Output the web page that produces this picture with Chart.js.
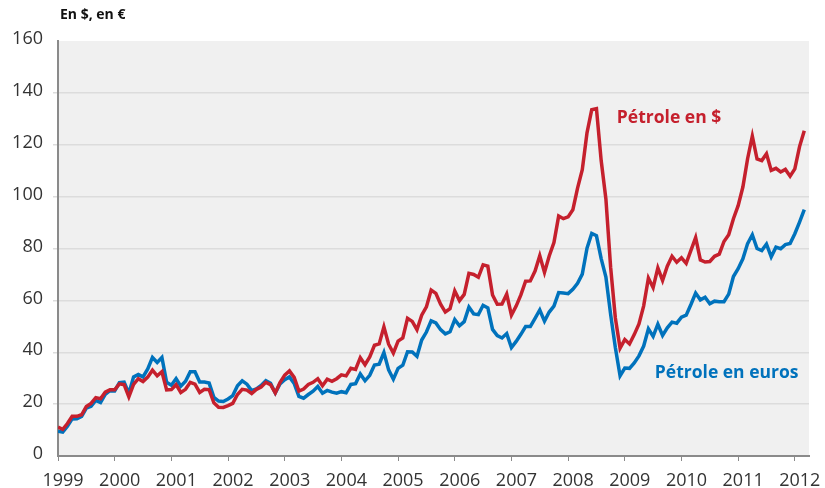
<!DOCTYPE html>
<html lang="fr">
<head>
<meta charset="utf-8">
<style>
  html, body { margin: 0; padding: 0; background: #ffffff; }
  #wrap { width: 825px; height: 488px; position: relative; }
</style>
</head>
<body>
<div id="wrap"><canvas id="myChart" width="825" height="488"></canvas></div>
<script src="https://cdn.jsdelivr.net/npm/chart.js"></script>
<script>
// monthly values, Jan 1999 -> Mar 2012
const startYear = 1999;
const yearTicks = [1999, 2000, 2001, 2002, 2003, 2004, 2005, 2006, 2007, 2008, 2009, 2010, 2011, 2012];
const yTicks = [0, 20, 40, 60, 80, 100, 120, 140, 160];

const petroleDollar = [
  11.1, 10.3, 12.5, 15.3, 15.3, 15.9, 19.1, 20.3, 22.5, 22.1, 24.6, 25.5,
  25.5, 27.8, 27.5, 22.8, 27.6, 29.8, 28.7, 30.4, 33.1, 30.9, 32.5, 25.5,
  25.6, 27.5, 24.5, 25.7, 28.4, 27.7, 24.5, 25.7, 25.6, 20.5, 18.8, 18.7,
  19.4, 20.3, 23.7, 25.7, 25.4, 24.1, 25.7, 26.6, 28.4, 27.5, 24.3, 28.3,
  31.2, 32.8, 30.3, 25.0, 25.8, 27.6, 28.4, 29.8, 27.1, 29.6, 28.8, 29.8,
  31.3, 30.9, 33.8, 33.4, 37.9, 35.2, 38.2, 42.7, 43.2, 49.8, 43.1, 39.7,
  44.3, 45.5, 53.1, 51.9, 48.7, 54.3, 57.5, 64.0, 62.7, 58.5, 55.5, 56.8,
  63.6, 59.9, 62.3, 70.4, 70.0, 68.9, 73.7, 73.2, 62.1, 58.5, 58.6, 62.4,
  54.3, 57.8, 62.1, 67.4, 67.5, 71.3, 77.2, 70.8, 77.1, 82.3, 92.5, 91.5,
  92.2, 94.9, 103.3, 110.4, 124.6, 133.5, 133.9, 113.9, 99.1, 72.8, 53.2, 41.6,
  44.9, 43.2, 46.8, 50.9, 57.9, 68.6, 64.9, 72.5, 67.7, 73.2, 77.0, 74.7,
  76.4, 74.3, 79.3, 84.2, 75.6, 74.8, 75.0, 77.0, 77.8, 82.7, 85.3, 91.5,
  96.5, 103.7, 114.6, 123.3, 114.5, 113.9, 116.5, 110.1, 110.9, 109.5, 110.5, 107.9,
  110.7, 119.3, 125.4
];

const petroleEuro = [
  9.6, 9.2, 11.5, 14.3, 14.4, 15.3, 18.5, 19.2, 21.4, 20.6, 23.8, 25.2,
  25.1, 28.3, 28.5, 24.1, 30.5, 31.4, 30.5, 33.6, 38.0, 36.1, 38.0, 28.4,
  27.3, 29.8, 26.9, 28.8, 32.5, 32.5, 28.5, 28.5, 28.1, 22.6, 21.2, 21.0,
  22.0, 23.3, 27.1, 29.0, 27.7, 25.2, 25.9, 27.2, 29.0, 28.0, 24.3, 27.8,
  29.4, 30.5, 28.0, 23.0, 22.3, 23.7, 25.0, 26.8, 24.2, 25.3, 24.6, 24.2,
  24.8, 24.4, 27.6, 27.9, 31.6, 29.0, 31.1, 35.1, 35.4, 39.9, 33.2, 29.6,
  33.8, 35.0, 40.2, 40.1, 38.4, 44.7, 47.8, 52.1, 51.3, 48.7, 47.1, 47.9,
  52.6, 50.2, 51.8, 57.4, 54.8, 54.5, 58.1, 57.1, 48.8, 46.4, 45.5, 47.2,
  41.8, 44.2, 46.9, 49.9, 49.9, 53.1, 56.3, 52.0, 55.5, 57.8, 63.0, 62.8,
  62.6, 64.3, 66.6, 70.1, 80.1, 85.8, 84.9, 76.1, 69.0, 54.6, 41.8, 30.9,
  33.9, 33.8, 35.9, 38.6, 42.4, 49.0, 46.1, 50.8, 46.5, 49.4, 51.6, 51.2,
  53.5, 54.3, 58.4, 62.8, 60.2, 61.2, 58.7, 59.7, 59.5, 59.5, 62.4, 69.2,
  72.2, 76.0, 81.9, 85.3, 80.0, 79.2, 81.7, 76.8, 80.5, 79.9, 81.5, 81.9,
  85.7, 90.2, 95.0
];

const rouge = '#c5202d';
const bleu = '#0072bc';
const fontFam = '"Open Sans", "DejaVu Sans", sans-serif';

function toPoints(values) {
  return values.map((v, i) => ({ x: startYear + i / 12, y: v }));
}

// grey plot background, title and series labels
const decor = {
  id: 'decor',
  beforeDraw(chart) {
    const { ctx, chartArea } = chart;
    ctx.save();
    ctx.fillStyle = '#f0f0f0';
    ctx.fillRect(chartArea.left, chartArea.top, chartArea.right - chartArea.left, chartArea.bottom - chartArea.top);
    ctx.restore();
  },
  afterDraw(chart) {
    const { ctx, scales } = chart;
    ctx.save();
    ctx.textBaseline = 'middle';
    ctx.textAlign = 'left';
    ctx.fillStyle = '#111';
    ctx.font = 'bold 14px ' + fontFam;
    ctx.fillText('En $, en €', 60, 15);
    ctx.font = 'bold 17.5px ' + fontFam;
    ctx.fillStyle = rouge;
    ctx.fillText('Pétrole en $', scales.x.getPixelForValue(2008.86), scales.y.getPixelForValue(130.3));
    ctx.fillStyle = bleu;
    ctx.fillText('Pétrole en euros', scales.x.getPixelForValue(2009.53), scales.y.getPixelForValue(32));
    ctx.restore();
  }
};

const config = {
  type: 'line',
  data: {
    datasets: [{
      label: 'Pétrole en $',
      data: toPoints(petroleDollar),
      borderColor: rouge,
      borderWidth: 3.5,
      pointRadius: 0,
      tension: 0
    }, {
      label: 'Pétrole en euros',
      data: toPoints(petroleEuro),
      borderColor: bleu,
      borderWidth: 3.5,
      pointRadius: 0,
      tension: 0
    }]
  },
  options: {
    responsive: false,
    animation: false,
    layout: { padding: { top: 41, right: 16, left: 0, bottom: 0 } },
    plugins: { legend: { display: false }, tooltip: { enabled: false } },
    scales: {
      x: {
        type: 'linear',
        min: 1999,
        max: 2012.25,
        afterFit(scale) { scale.height = 32; },
        afterBuildTicks(scale) { scale.ticks = yearTicks.map(v => ({ value: v })); },
        border: { color: '#8a8a8a', width: 2 },
        grid: { drawOnChartArea: false, drawTicks: true, tickLength: 5, color: '#8a8a8a' },
        ticks: {
          color: '#333',
          font: { family: fontFam, size: 18 },
          padding: 9,
          labelOffset: 5,
          maxRotation: 0,
          callback: v => String(v)
        }
      },
      y: {
        min: 0,
        max: 160,
        afterFit(scale) { scale.width = 58; },
        afterBuildTicks(scale) { scale.ticks = yTicks.map(v => ({ value: v })); },
        border: { color: '#8a8a8a', width: 2 },
        grid: {
          color: ctx => (ctx.tick && (ctx.tick.value === 0 || ctx.tick.value === 160)) ? 'rgba(0,0,0,0)' : '#dcdcdc',
          lineWidth: 1.5,
          tickLength: 5
        },
        ticks: {
          color: '#333',
          font: { family: fontFam, size: 18 },
          padding: 10,
          labelOffset: -2
        }
      }
    }
  },
  plugins: [decor]
};

const myChart = new Chart(document.getElementById('myChart'), config);
</script>
</body>
</html>
